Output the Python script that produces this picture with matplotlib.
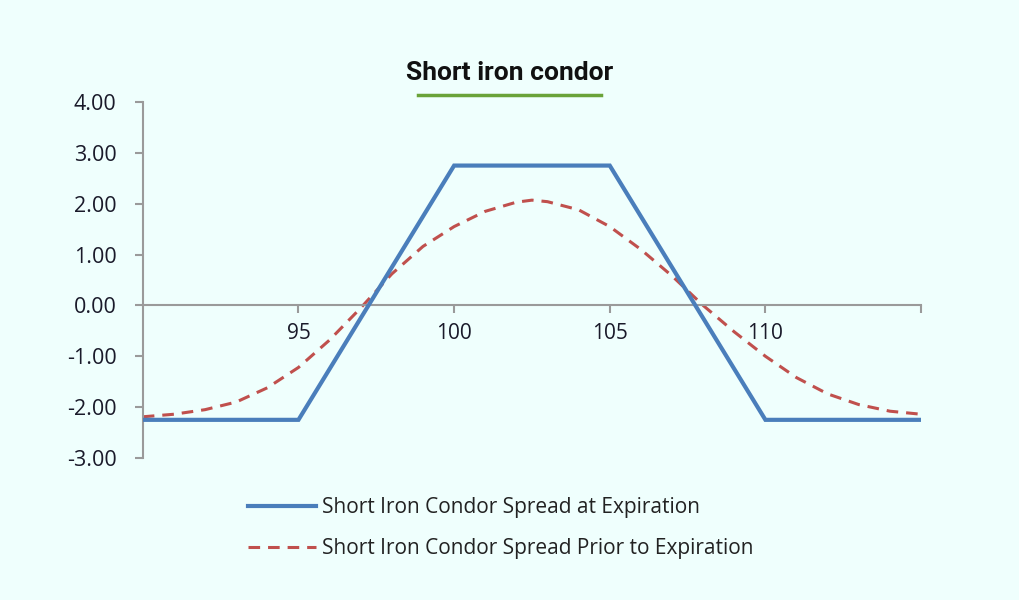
import matplotlib
matplotlib.use('Agg')
import matplotlib.pyplot as plt
from matplotlib.lines import Line2D

# payoff at expiration (piecewise)
x_exp = [90, 95, 100, 105, 110, 115]
y_exp = [-2.25, -2.25, 2.75, 2.75, -2.25, -2.25]

# payoff prior to expiration
x_prior = [90, 91, 92, 93, 94, 95, 96, 97, 98, 99, 100, 101, 102, 102.5,
           103, 104, 105, 106, 107, 108, 109, 110, 111, 112, 113, 114, 115]
y_prior = [-2.19, -2.14, -2.05, -1.90, -1.62, -1.22, -0.68, -0.05, 0.62, 1.16,
           1.55, 1.85, 2.03, 2.07, 2.04, 1.88, 1.55, 1.10, 0.58, 0.0, -0.52,
           -1.0, -1.42, -1.74, -1.95, -2.08, -2.14]

y_ticks = [-3, -2, -1, 0, 1, 2, 3, 4]
x_ticks = [95, 100, 105, 110, 115]
x_ticklabels = ['95', '100', '105', '110', '']

labels = ['Short Iron Condor Spread at Expiration',
          'Short Iron Condor Spread Prior to Expiration']

bg = '#effffd'
blue = '#4a7ebb'
red = '#c0504d'
grey = '#9a9a9a'
font = ['Open Sans', 'DejaVu Sans']

fig = plt.figure(figsize=(10.2, 6), dpi=100, facecolor=bg)
ax = fig.add_axes([0.140, 0.2367, 0.763, 0.5933])
ax.set_facecolor(bg)

ax.plot(x_exp, y_exp, color=blue, lw=3, solid_joinstyle='miter', zorder=3)
ax.plot(x_prior, y_prior, color=red, lw=2.2, dashes=(3.8, 2.6), zorder=2)

ax.set_xlim(90, 115)
ax.set_ylim(-3, 4)

ax.spines['top'].set_visible(False)
ax.spines['right'].set_visible(False)
ax.spines['bottom'].set_position(('data', 0))
for s in ['left', 'bottom']:
    ax.spines[s].set_color(grey)
    ax.spines[s].set_linewidth(1.5)

ax.set_yticks(y_ticks)
ax.set_yticklabels([f'{v:.2f}' for v in y_ticks], fontfamily=font, fontsize=15.5,
                   color='#1a1a2a')
ax.set_xticks(x_ticks)
ax.set_xticklabels(x_ticklabels, fontfamily=font, fontsize=15, color='#1a1a2a')
ax.tick_params(axis='both', color=grey, width=1.5, length=6)
ax.tick_params(axis='y', pad=13)
ax.tick_params(axis='x', pad=7)

# title + green underline
fig.text(0.5, 0.878, 'Short iron condor', ha='center', va='center',
         fontsize=19, fontweight='bold',
         fontfamily=['Liberation Sans Narrow', 'Roboto', 'DejaVu Sans'],
         color='#111111')
fig.add_artist(Line2D([418 / 1020, 601 / 1020], [1 - 95 / 600, 1 - 95 / 600],
                      color='#6aa339', lw=2.5))

handles = [Line2D([], [], color=blue, lw=3),
           Line2D([], [], color=red, lw=2.2, dashes=(3.8, 2.6))]
fig.legend(handles, labels, loc='center left', bbox_to_anchor=(0.243, 0.120),
           frameon=False, borderpad=0, borderaxespad=0, handlelength=3.27,
           handletextpad=0.3, labelspacing=0.96,
           prop={'family': font, 'size': 15}, labelcolor='#222222')

fig.savefig('out.png', dpi=100, facecolor=bg)
